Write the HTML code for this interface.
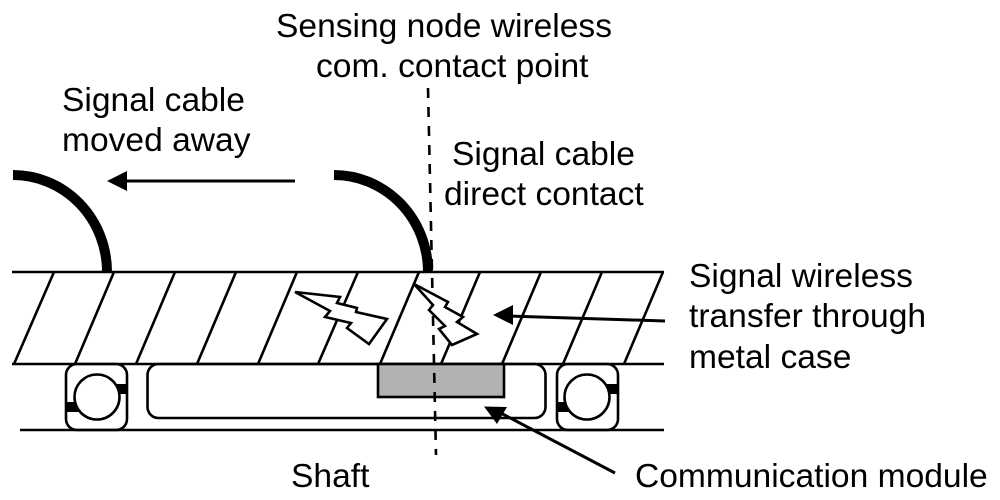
<!DOCTYPE html>
<html><head><meta charset="utf-8"><style>
html,body{margin:0;padding:0;background:#fff;width:1000px;height:500px;overflow:hidden}
svg{display:block}
text{font-family:"Liberation Sans",Arial,sans-serif;font-size:33.6px;fill:#000}
</style></head><body>
<svg width="1000" height="500" viewBox="0 0 1000 500" xmlns="http://www.w3.org/2000/svg">
<g stroke="#000" stroke-width="2.6" fill="none">
<path d="M54 272L14 364M114 272L75 364M175 272L136 364M236 272L197 364M297 272L258 364M358 272L318 364M419 272L380 364M480 272L441 364M541 272L502 364M602 272L563 364M663 272L624 364"/>
<path d="M12 272H664M12 364H664M20 430H664"/>
<rect x="66" y="364" width="61" height="66" rx="11"/>
<rect x="557" y="364" width="61" height="66" rx="11"/>
<rect x="147.500" y="364" width="398" height="54" rx="11"/>
</g>
<path d="M66 402L78 402 86 412 66 412ZM127 384L115 384 107 394 127 394ZM557 402L569 402 577 412 557 412ZM618 384L606 384 598 394 618 394Z" fill="#000"/>
<circle cx="97" cy="397" r="22.500" fill="#fff" stroke="#000" stroke-width="2.600"/>
<circle cx="587" cy="397" r="22.500" fill="#fff" stroke="#000" stroke-width="2.600"/>
<rect x="378" y="364" width="126" height="33" fill="#b2b2b2" stroke="#000" stroke-width="2.600"/>
<path d="M428 88L436 455" stroke="#000" stroke-width="2.600" stroke-dasharray="10 9" fill="none"/>
<path d="M13 175A94 97 0 0 1 107 272M334 175A94 97 0 0 1 428 272" stroke="#000" stroke-width="10" fill="none"/>
<path d="M295 181H122" stroke="#000" stroke-width="3" fill="none"/>
<path d="M107 181L127 171V191Z" fill="#000"/>
<path d="M665 321L508 316" stroke="#000" stroke-width="3" fill="none"/>
<path d="M493 315L513 305V325Z" fill="#000"/>
<path d="M615 473L495 410" stroke="#000" stroke-width="3" fill="none"/>
<path d="M484 406.500L507 407 497 424Z" fill="#000"/>
<path d="M295 292L340 297 337 303 357 308 356 312 387 319 369 344 347 328 351 323 325 317 330 311Z" fill="#fff" stroke="#000" stroke-width="2.600"/>
<path d="M414 284L448 302 445 307 463 317 457 322 477 334 452 345 439 329 445 326 429 310 433 305Z" fill="#fff" stroke="#000" stroke-width="2.600"/>
<text x="276" y="37">Sensing node wireless</text>
<text x="316" y="77">com. contact point</text>
<text x="62" y="111">Signal cable</text>
<text x="62" y="151">moved away</text>
<text x="452" y="165">Signal cable</text>
<text x="444" y="205">direct contact</text>
<text x="689" y="287">Signal wireless</text>
<text x="689" y="327">transfer through</text>
<text x="689" y="368">metal case</text>
<text x="291" y="487">Shaft</text>
<text x="635" y="487">Communication module</text>
</svg>
</body></html>
